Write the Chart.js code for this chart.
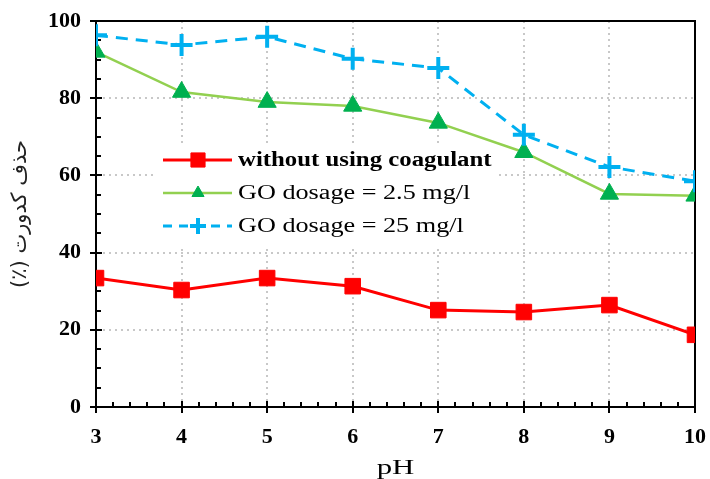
<!DOCTYPE html>
<html><head><meta charset="utf-8">
<script src="https://cdn.jsdelivr.net/npm/chart.js@4.4.0/dist/chart.umd.min.js"></script>
<style>html,body{margin:0;padding:0;background:#fff}#wrap{width:710px;height:479px}</style>
</head><body><div id="wrap"><canvas id="c" width="710" height="479"></canvas></div>
<script>
const phValues = [3, 4, 5, 6, 7, 8, 9, 10];
const withoutCoagulant = [33.4, 30.3, 33.4, 31.3, 25.1, 24.6, 26.4, 18.7];
const goDosage25 = [92.0, 81.6, 79.0, 78.0, 73.6, 66.0, 55.2, 54.7];
const goDosage250 = [96.3, 93.8, 95.9, 90.2, 87.8, 70.5, 62.2, 58.5];
const seriesLabels = ['without using coagulant', 'GO dosage = 2.5 mg/l', 'GO dosage = 25 mg/l'];
const xTitle = 'pH';
const yTitle = '\u200Fحذف کدورت \u200F(٪)\u200F';

const SERIF = '"Liberation Serif", "Times New Roman", serif';
const toXY = arr => arr.map((v, i) => ({x: phValues[i], y: v}));

const decor = {
  id: 'decor',
  beforeDatasetsDraw(chart) {
    const {ctx, chartArea: a, scales: {x, y}} = chart;
    ctx.save();
    ctx.strokeStyle = '#000';
    ctx.lineWidth = 2;
    ctx.beginPath();
    ctx.moveTo(a.left, a.top); ctx.lineTo(a.right, a.top); ctx.lineTo(a.right, a.bottom);
    ctx.stroke();
    for (let v = 0; v <= 100; v += 5) {
      const py = Math.round(y.getPixelForValue(v));
      ctx.beginPath();
      if (v % 20 === 0) { ctx.moveTo(a.left - 6, py); ctx.lineTo(a.left + 6, py); }
      else { ctx.moveTo(a.left, py); ctx.lineTo(a.left + 5, py); }
      ctx.stroke();
    }
    for (let i = 0; i <= 35; i++) {
      const v = 3 + i * 0.2;
      const px = Math.round(x.getPixelForValue(v));
      ctx.beginPath();
      if (i % 5 === 0) { ctx.moveTo(px, a.bottom - 6); ctx.lineTo(px, a.bottom + 6); }
      else { ctx.moveTo(px, a.bottom); ctx.lineTo(px, a.bottom - 5); }
      ctx.stroke();
    }
    ctx.fillStyle = '#fff';
    ctx.fillRect(155, 145, 340, 100);
    ctx.save();
    ctx.translate((a.left + a.right) / 2, 474);
    ctx.scale(1.4, 1);
    ctx.fillStyle = '#000';
    ctx.font = '22px ' + SERIF;
    ctx.textAlign = 'center';
    ctx.textBaseline = 'alphabetic';
    ctx.fillText(xTitle, 0, 0);
    ctx.restore();
    ctx.restore();
  },
  afterDraw(chart) {
    const {ctx} = chart;
    ctx.save();
    const ds = chart.data.datasets;
    const rows = [160, 193, 226];
    ds.forEach((d, i) => {
      const ly = rows[i];
      ctx.strokeStyle = d.borderColor;
      ctx.lineWidth = d.borderWidth;
      ctx.setLineDash(d.legendDash || []);
      ctx.beginPath(); ctx.moveTo(163, ly); ctx.lineTo(232, ly); ctx.stroke();
      ctx.setLineDash([]);
      ctx.fillStyle = d.pointBackgroundColor;
      ctx.strokeStyle = d.pointBorderColor;
      ctx.lineWidth = d.pointBorderWidth;
      Chart.helpers.drawPoint(ctx, {pointStyle: d.pointStyle, radius: d.legendRadius, borderWidth: d.pointBorderWidth}, 198, ly);
      ctx.save();
      ctx.translate(238, ly + 1);
      ctx.scale(i === 0 ? 1.24 : 1.31, 1);
      ctx.fillStyle = '#000';
      ctx.font = (i === 0 ? 'bold 20px ' : '20px ') + SERIF;
      ctx.textBaseline = 'middle';
      ctx.textAlign = 'left';
      ctx.fillText(d.label, 0, 0);
      ctx.restore();
    });
    ctx.restore();
  }
};

new Chart(document.getElementById('c'), {
  type: 'line',
  data: {
    datasets: [
      {label: seriesLabels[0], data: toXY(withoutCoagulant), order: 2, borderColor: '#FF0000', borderWidth: 3,
       pointStyle: 'rect', pointRadius: 11, legendRadius: 10, pointBackgroundColor: '#FF0000', pointBorderColor: '#FF0000', pointBorderWidth: 1},
      {label: seriesLabels[1], data: toXY(goDosage25), order: 1, borderColor: '#92D050', borderWidth: 2.5,
       pointStyle: 'triangle', pointRadius: 10.5, legendRadius: 7, pointBackgroundColor: '#00B050', pointBorderColor: '#00B050', pointBorderWidth: 1},
      {label: seriesLabels[2], data: toXY(goDosage250), order: 0, borderColor: '#00B0F0', borderWidth: 3, borderDash: [12, 8], legendDash: [9, 7],
       pointStyle: 'cross', pointRadius: 11, legendRadius: 8, pointBackgroundColor: '#00B0F0', pointBorderColor: '#00B0F0', pointBorderWidth: 4}
    ]
  },
  options: {
    responsive: false,
    animation: false,
    layout: {padding: {top: 21, right: 13, left: 0, bottom: 0}},
    plugins: {legend: {display: false}, tooltip: {enabled: false}},
    elements: {line: {tension: 0}},
    scales: {
      x: {
        type: 'linear', min: 3, max: 10,
        ticks: {stepSize: 1, color: '#000', font: {family: SERIF, size: 22, weight: 'bold'}, padding: 17},
        grid: {color: '#C8C8C8', lineWidth: 2, drawTicks: false},
        border: {color: '#000', width: 2, dash: [2, 4]},
        title: {display: false, text: xTitle},
        afterFit(s) { s.height = 72; s.paddingRight = 0; s.paddingLeft = 0; }
      },
      y: {
        min: 0, max: 100,
        ticks: {stepSize: 20, color: '#000', font: {family: SERIF, size: 22, weight: 'bold'}, padding: 15},
        grid: {color: '#C8C8C8', lineWidth: 2, drawTicks: false},
        border: {color: '#000', width: 2, dash: [2, 4]},
        title: {display: true, text: yTitle, color: '#222', font: {family: '"DejaVu Sans", sans-serif', size: 21}, padding: {top: 8, bottom: 0}},
        afterFit(s) { s.width = 96; s.paddingTop = 0; s.paddingBottom = 0; }
      }
    }
  },
  plugins: [decor]
});
</script></body></html>
